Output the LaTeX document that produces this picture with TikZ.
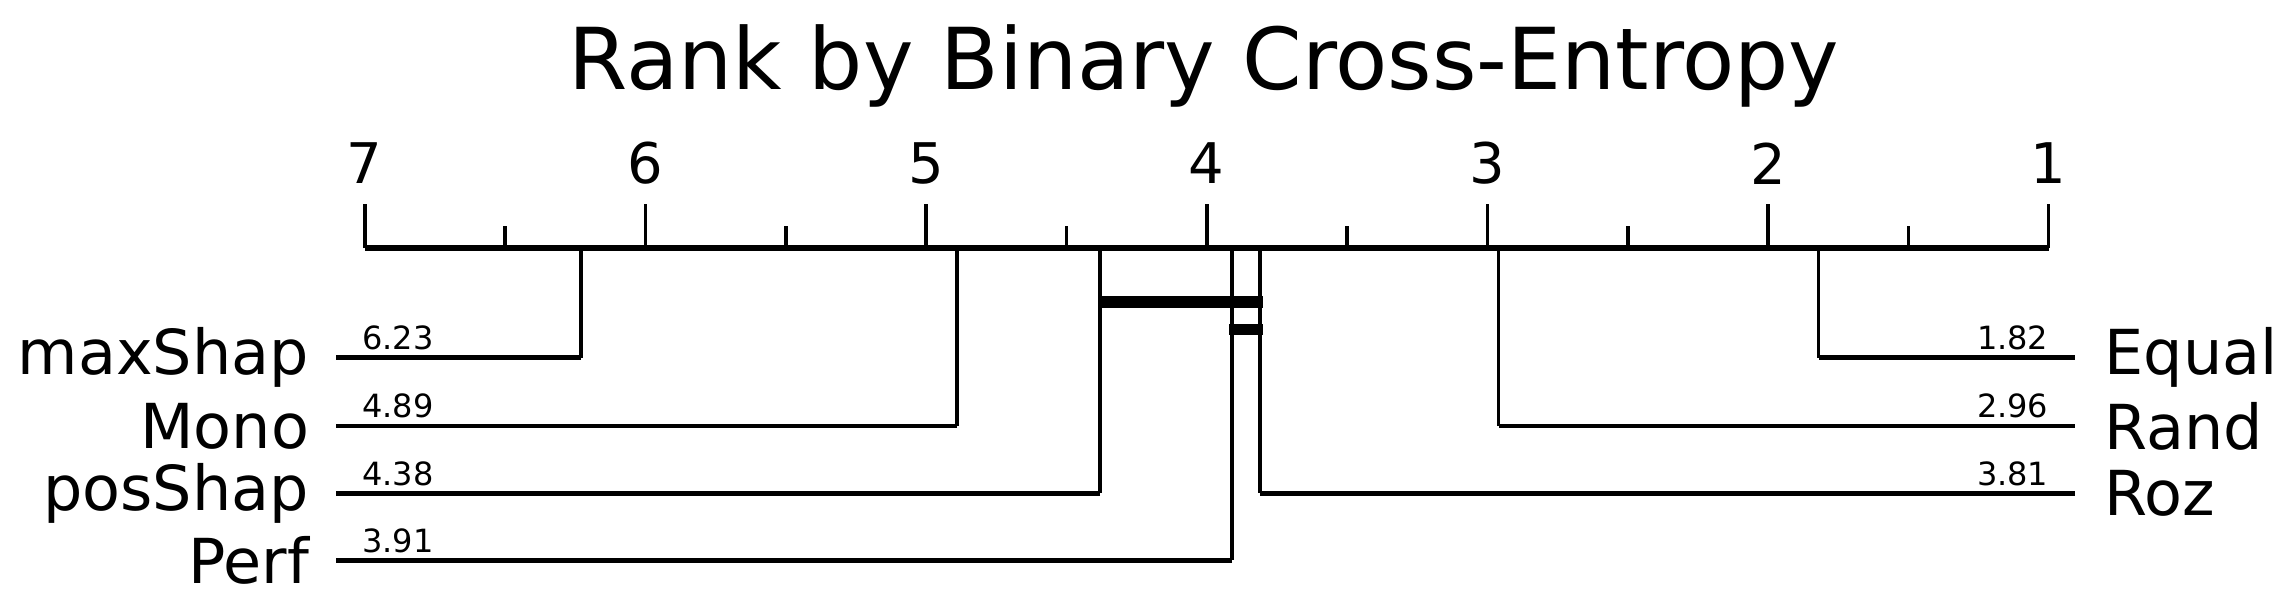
\documentclass[tikz,border=0pt]{standalone}
\usepackage{fontspec}
\setmainfont{DejaVu Sans}
\begin{document}
\begin{tikzpicture}[x=0.7296pt,y=-0.7296pt,
  ax/.style={line width=2.9pt},
  row/.style={line width=2.4pt},
  drop/.style={line width=1.8pt},
  clq/.style={line width=5.6pt},
  lab/.style={font=\fontsize{31pt}{31pt}\selectfont,inner sep=0pt},
  num/.style={font=\fontsize{16pt}{16pt}\selectfont,inner sep=0pt},
  tk/.style={font=\fontsize{28pt}{28pt}\selectfont,inner sep=0pt}]
\useasboundingbox (0,0) rectangle (1568,411.2);
\def\rx#1{250+(7-#1)*192.33}
\node[font=\fontsize{42.7pt}{42.7pt}\selectfont,inner sep=0pt] (title) at (825,45) {Rank by Binary Cross-Entropy};
\draw[ax] (250,170) coordinate (a0) -- (1404,170) coordinate (a1);
\foreach \i in {1,...,7}{
  \draw[drop] ({\rx{\i}},170) -- ({\rx{\i}},140);
  \node[tk] (t\i) at ({\rx{\i}},112) {\i};}
\foreach \i in {1.5,2.5,...,6.5}{\draw[drop] ({\rx{\i}},170) -- ({\rx{\i}},155);}
% left
\foreach \n/\r/\y/\s in {maxShap/6.23/245/6.23,Mono/4.89/292/4.89,posShap/4.38/338/4.38,Perf/3.91/384/3.91}{
  \coordinate (top\n) at ({\rx{\r}},170);
  \coordinate (c\n) at ({\rx{\r}},\y);
  \coordinate (e\n) at (230,\y);
  \draw[drop] (top\n) -- (c\n);
  \draw[row] (c\n) -- (e\n);
  \node[lab,anchor=east] (L\n) at (212,\y) {\n};
  \node[num,anchor=south west] (N\n) at (248,\y-5) {\s};}
\foreach \n/\r/\y/\s in {Equal/1.82/245/1.82,Rand/2.96/292/2.96,Roz/3.81/338/3.81}{
  \coordinate (top\n) at ({\rx{\r}},170);
  \coordinate (c\n) at ({\rx{\r}},\y);
  \coordinate (e\n) at (1422,\y);
  \draw[drop] (top\n) -- (c\n);
  \draw[row] (c\n) -- (e\n);
  \node[lab,anchor=west] (L\n) at (1442,\y) {\n};
  \node[num,anchor=south east] (N\n) at (1404,\y-5) {\s};}
\draw[clq] ({\rx{4.38}},207) coordinate (q1) -- ({\rx{3.81}+2},207) coordinate (q2);
\draw[clq] ({\rx{3.91}-2},226) coordinate (q3) -- ({\rx{3.81}+2},226) coordinate (q4);
\end{tikzpicture}
\end{document}
